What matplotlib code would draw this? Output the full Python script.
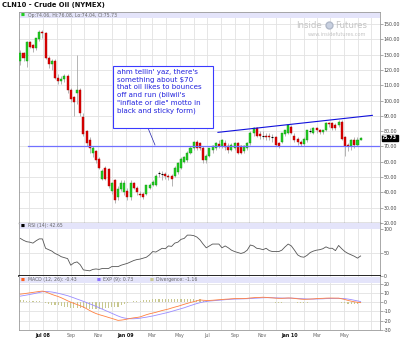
import matplotlib
matplotlib.use('Agg')
import matplotlib.pyplot as plt
import matplotlib.dates as mdates
import numpy as np
import pandas as pd
from matplotlib.patches import Rectangle
from matplotlib.lines import Line2D

W, H = 400, 351

# ---------------- data (weekly candles, CLN10) ----------------
start_week = '2008-05-12'
opens = [126, 131, 126, 138, 136, 134, 140, 144.5, 144, 128,
         124, 126, 115, 113, 114, 116, 106.6, 102, 104.6, 106.6,
         89, 80, 74, 65.4, 67, 62, 49, 55.6, 55, 41,
         48, 36.7, 42, 40, 41, 36.7, 46, 43, 39, 39,
         39, 43, 45, 45, 52.4, 52, 52, 51, 51, 51,
         53, 56, 60, 61, 66, 68.7, 72.6, 72, 69, 61,
         64, 67.5, 68.7, 71.5, 70.6, 72, 70.6, 68, 69, 72,
         70, 67, 69, 72, 78.5, 81.8, 78, 77, 77, 76.5,
         76, 76, 72, 72.6, 78, 79, 83, 77, 75, 73,
         71.5, 74, 80, 79, 81.8, 80.5, 79.5, 80.5, 85, 85,
         84, 84, 85.7, 76, 71, 70.6, 74, 71, 74.06]
highs = [133, 132, 139, 139, 137, 141, 146, 146, 145, 129,
         127, 127, 117, 116, 117, 117, 108, 103, 129.5, 108,
         92, 81, 76, 70, 68, 63, 55, 57, 56, 47,
         49, 44, 48, 48, 43, 48, 47, 44, 41, 40,
         45, 46, 48, 52, 54, 54, 53, 52, 52, 57,
         60, 63, 64, 67, 70, 73.5, 74, 73, 70, 65,
         69, 71, 73, 74, 75, 74, 72, 72, 73, 73,
         71, 71, 73, 80, 82.5, 82.5, 80, 80, 79, 79,
         78, 77, 73, 79, 81, 84.5, 84, 79, 76, 74,
         76, 81, 82, 82.5, 82.5, 81.5, 81, 86, 86, 86,
         85, 87, 87, 77, 72, 75, 76, 76, 76.08]
lows = [123, 126, 122, 134, 132, 133, 139, 141, 127, 121,
        120, 114, 111, 111, 112, 105, 99, 90, 98, 90,
        77, 70, 66, 63, 59, 55, 48, 48, 43, 39,
        33, 35, 41, 38, 35, 35, 42, 38, 37, 36,
        38, 42, 44, 44, 50, 48, 49, 48, 44, 50,
        52, 55, 59, 60, 65, 68, 68, 68, 59, 59,
        63, 66, 68, 69, 69, 68, 66, 67, 68, 65,
        65, 66, 68, 71, 77, 76, 75, 75, 74, 74,
        73, 70, 69, 72, 77, 78, 78, 73, 71, 70,
        70, 73, 79, 78, 79, 78, 78, 80, 83, 81,
        81, 83, 74, 64, 67, 68, 69, 70, 74.04]
closes = [131, 128, 138, 135, 134, 140.6, 144.5, 143.8, 128, 124,
          125.5, 115, 113, 114, 116, 106.6, 101, 99, 106.6, 92,
          78, 72, 69, 68.7, 61, 56, 54, 49, 44, 46,
          35, 42.5, 46, 46, 36.7, 46, 43, 40, 38, 37,
          44.5, 45, 46.5, 51, 52.4, 52, 51, 50, 49, 56,
          59, 62, 63, 66, 69, 72.6, 69, 69, 61, 64,
          68.7, 70, 72, 70, 74, 69.5, 67.4, 71, 72, 66,
          66, 70, 72, 79, 81.8, 77, 77, 77, 76, 76,
          76, 71, 70, 78.5, 80.5, 83.7, 78.5, 74, 72.6, 71.5,
          75, 80.5, 80, 81.8, 80.5, 79.5, 80.5, 85, 84.5, 82,
          82, 85.7, 75, 70.6, 70, 74, 71, 74, 75.73]
rsi = [80, 76, 73, 72, 70, 75, 79, 79, 59, 56,
       53, 48, 45, 41, 39, 37, 23, 28, 30, 24,
       13, 12, 11, 14, 15, 14, 16, 16, 16, 20,
       20, 20, 23, 25, 27, 30, 33, 35, 36, 38,
       40, 45, 52, 51, 55, 59, 58, 64, 63, 70,
       72, 78, 80, 87, 87, 86, 83, 77, 68, 60,
       64, 68, 68, 68, 60, 64, 60, 55, 52, 50,
       48, 50, 55, 66, 64, 59, 58, 56, 59, 54,
       52, 52, 52, 55, 62, 68, 64, 55, 45, 41,
       40, 44, 50, 53, 55, 56, 58, 62, 59, 59,
       54, 65, 58, 52, 48, 45, 42, 38, 42.65]
macd = [8.9, 9.3, 9.8, 10.3, 10.8, 11.3, 11.8, 12.2, 11.3, 10,
        8.6, 7.4, 6.3, 4.9, 3.3, 1.6, 0.1, -1.2, -2.5, -3.8,
        -5.2, -7, -9, -10.8, -12.3, -13.5, -14.5, -15.5, -16.6, -17.6,
        -18.7, -19.8, -19.5, -19, -18.3, -17.6, -17, -16.6, -16, -14.8,
        -13.6, -12.6, -11.8, -11, -10, -9, -8.2, -7.4, -6.3, -5.3,
        -4.4, -3.3, -2.2, -1.2, -0.2, 0.6, 1.6, 2.6, 2.2, 2,
        2, 2.2, 2.5, 2.8, 3, 3.3, 3.5, 3.8, 4, 4,
        4, 4, 4.3, 4.7, 5, 5.3, 5.3, 5.5, 5.3, 5,
        4.8, 4.5, 4.3, 4.3, 4.5, 4.7, 4.6, 4.2, 3.8, 3.4,
        3.2, 3.3, 3.5, 3.7, 4, 4.2, 4.3, 4.5, 4.6, 4.6,
        4.5, 4.5, 3.8, 3, 2, 1.2, 0.5, 0, -0.43]
signal = [6.7, 7.3, 7.9, 8.5, 9.2, 9.9, 10.7, 11.5, 11.7, 11.6,
          11.2, 10.6, 9.8, 9, 8.1, 7.2, 6, 4.8, 3.5, 2.3,
          1, -0.3, -1.7, -3, -4.5, -6, -7.5, -9, -10.5, -12,
          -13.5, -15, -16.3, -17.2, -17.8, -18, -18, -17.8, -17.4, -16.8,
          -16.3, -15.6, -15, -14.2, -13.4, -12.6, -11.8, -11, -10, -9,
          -8, -7, -6, -4.8, -3.6, -2.5, -1.4, -0.5, 0.3, 0.9,
          1.3, 1.6, 1.9, 2.2, 2.5, 2.8, 3.1, 3.3, 3.5, 3.6,
          3.7, 3.8, 3.9, 4.1, 4.3, 4.5, 4.7, 4.9, 5, 5,
          4.9, 4.8, 4.7, 4.6, 4.5, 4.5, 4.5, 4.4, 4.2, 4,
          3.8, 3.6, 3.5, 3.5, 3.6, 3.7, 3.8, 4, 4.1, 4.2,
          4.3, 4.3, 4.2, 3.9, 3.5, 2.9, 2.2, 1.5, 0.73]

support_level = 70
trend_start = ('2009-07-25', 79.2)
trend_end = ('2010-07-03', 90.3)
support_start = '2008-05-29'

month_ticks = ['2008-07-01', '2008-09-01', '2008-11-01', '2009-01-01', '2009-03-01',
               '2009-05-01', '2009-07-01', '2009-09-01', '2009-11-01', '2010-01-01',
               '2010-03-01', '2010-05-01']
month_labels = ['Jul 08', 'Sep', 'Nov', 'Jan 09', 'Mar', 'May', 'Jul', 'Sep', 'Nov',
                'Jan 10', 'Mar', 'May']
price_ticks = [150, 140, 130, 120, 110, 100, 90, 80, 70, 60, 50, 40, 30, 20]
rsi_ticks = [100, 50, 0]
macd_ticks = [20, 10, 0, -10, -20, -30]

title = 'CLN10 - Crude Oil (NYMEX)'
note = ("ahm tellin' yaz, there's\nsomething about $70\nthat oil likes to bounces\n"
        "off and run (biiwii's\n\"inflate or die\" motto in\nblack and sticky form)")

# ---------------- figure ----------------
fig = plt.figure(figsize=(W / 100, H / 100), dpi=100)
fig.patch.set_facecolor('white')

def fx(x):
    return x / W

def fy(y):
    return 1 - y / H

L, R = 19, 380
ax1 = fig.add_axes([fx(L), fy(223), (R - L) / W, 211 / H])
ax2 = fig.add_axes([fx(L), fy(276), (R - L) / W, 53 / H])
ax3 = fig.add_axes([fx(L), fy(330), (R - L) / W, 54 / H])

dates = pd.date_range(start_week, periods=len(closes), freq='7D')
xd = mdates.date2num(dates)
o = np.array(opens, float); h = np.array(highs, float)
lo = np.array(lows, float); c = np.array(closes, float)

xmin = mdates.date2num(pd.Timestamp('2008-05-09'))
xmax = mdates.date2num(pd.Timestamp('2010-07-20'))
month_grid = mdates.date2num(pd.date_range('2008-06-01', '2010-07-01', freq='MS'))

grid_c = '#e2e2e2'
spine_c = '#9a9a9a'
band_c = '#e4e4fa'
tick_fs = 3.45

for ax in (ax1, ax2, ax3):
    ax.set_xlim(xmin, xmax)
    ax.set_facecolor('white')
    for gx in month_grid:
        ax.axvline(gx, color=grid_c, lw=0.6, zorder=0)
    ax.yaxis.tick_right()
    ax.tick_params(axis='y', labelsize=tick_fs, length=2, width=0.5, color='#888888',
                   labelcolor='#444444', pad=0.6)
    ax.tick_params(axis='x', length=0)
    for s in ax.spines.values():
        s.set_color(spine_c)
        s.set_linewidth(0.6)

for ax in (ax1, ax2):
    ax.set_xticks([])
    ax.tick_params(axis='x', labelbottom=False)

# ---- main panel ----
ax1.set_ylim(20, 157.8)
ax1.set_yticks(price_ticks)
ax1.set_yticklabels(['%.2f' % v for v in price_ticks])
for py in price_ticks:
    ax1.axhline(py, color=grid_c, lw=0.6, zorder=0)
ax1.add_patch(Rectangle((0, 1 - 6 / 211), 1, 6 / 211, transform=ax1.transAxes,
                        facecolor=band_c, edgecolor='none', zorder=1))

ax1.vlines(xd, lo, h, color='#a8a8a8', lw=0.6, zorder=2)
bw = 4.5
up = c > o
dn = c < o
eq = c == o
ax1.bar(xd[up], (c - o)[up], bottom=o[up], width=bw, color='#22cc22',
        edgecolor='#119911', linewidth=0.3, zorder=3)
ax1.bar(xd[dn], (o - c)[dn], bottom=c[dn], width=bw, color='#dd0000',
        edgecolor='#aa0000', linewidth=0.3, zorder=3)
ax1.hlines(c[eq], xd[eq] - bw / 2, xd[eq] + bw / 2, color='black', lw=0.8, zorder=3)

# support and trend lines
ax1.plot([mdates.date2num(pd.Timestamp(support_start)), xmax], [support_level, support_level],
         color='#7070ff', lw=0.9, zorder=4)
ax1.plot([mdates.date2num(pd.Timestamp(trend_start[0])), mdates.date2num(pd.Timestamp(trend_end[0]))],
         [trend_start[1], trend_end[1]], color='#1111dd', lw=0.8, zorder=4)

ax1.spines['bottom'].set_color('#666666')
ax1.spines['bottom'].set_linewidth(1.0)

# current price label
ax1.text(1.006, closes[-1], '%.2f' % closes[-1], transform=ax1.get_yaxis_transform(),
         fontsize=tick_fs, color='white', va='center', ha='left', fontweight='bold',
         bbox=dict(boxstyle='square,pad=0.12', facecolor='black', edgecolor='black'))

# ---- RSI panel ----
ax2.set_ylim(0, 112.8)
ax2.set_yticks(rsi_ticks)
ax2.set_yticklabels([str(v) for v in rsi_ticks])
ax2.axhline(50, color=grid_c, lw=0.6, zorder=0)
ax2.add_patch(Rectangle((0, 1 - 6 / 53), 1, 6 / 53, transform=ax2.transAxes,
                        facecolor=band_c, edgecolor='none', zorder=1))
ax2.plot(xd, rsi, color='#555555', lw=0.6, zorder=3)
ax2.spines['bottom'].set_color('black')
ax2.spines['bottom'].set_linewidth(1.2)
ax2.spines['top'].set_visible(False)

# ---- MACD panel ----
ax3.set_ylim(-30.3, 28.7)
ax3.set_yticks(macd_ticks)
ax3.set_yticklabels([str(v) for v in macd_ticks])
for py in macd_ticks:
    ax3.axhline(py, color=grid_c, lw=0.6, zorder=0)
ax3.add_patch(Rectangle((0, 1 - 7 / 54), 1, 6 / 54, transform=ax3.transAxes,
                        facecolor=band_c, edgecolor='none', zorder=1))
div = np.array(macd) - np.array(signal)
ax3.bar(xd, div, width=2.5, color='#c8c890', edgecolor='none', zorder=2)
ax3.plot(xd, signal, color='#9a8cff', lw=0.6, zorder=3)
ax3.plot(xd, macd, color='#ff8040', lw=0.6, zorder=4)
ax3.spines['top'].set_visible(False)

tick_x = mdates.date2num(pd.to_datetime(month_ticks))
ax3.set_xticks(tick_x)
ax3.set_xticklabels(month_labels)
ax3.tick_params(axis='x', labelsize=tick_fs, pad=2, labelcolor='#666666')
for lab in ax3.get_xticklabels():
    if ' ' in lab.get_text():
        lab.set_fontweight('bold')
        lab.set_color('#111111')

# ---- header texts ----
fig.text(fx(2), fy(5), title, fontsize=4.9, fontweight='bold', color='#111111',
         ha='left', va='center')
hdr_fs = 3.3
sq_fs = 3.0
fig.text(fx(21), fy(15.2), '■', fontsize=sq_fs, color='#22cc22', ha='left', va='center')
fig.text(fx(27.5), fy(15), 'Op:%.2f, Hi:%.2f, Lo:%.2f, Cl:%.2f' % (opens[-1], highs[-1], lows[-1], closes[-1]),
         fontsize=hdr_fs, color='#666666', ha='left', va='center')
fig.text(fx(21), fy(226.2), '■', fontsize=sq_fs, color='black', ha='left', va='center')
fig.text(fx(27.5), fy(226), 'RSI (14): %.2f' % rsi[-1], fontsize=hdr_fs, color='#666666',
         ha='left', va='center')
fig.text(fx(21), fy(280.2), '■', fontsize=sq_fs, color='#ff6020', ha='left', va='center')
fig.text(fx(27.5), fy(280), 'MACD (12, 26): %.2f' % macd[-1], fontsize=hdr_fs, color='#666666',
         ha='left', va='center')
fig.text(fx(97), fy(280.2), '■', fontsize=sq_fs, color='#8a70ff', ha='left', va='center')
fig.text(fx(103.5), fy(280), 'EXP (9): %.2f' % signal[-1], fontsize=hdr_fs, color='#666666',
         ha='left', va='center')
fig.text(fx(150), fy(280.2), '■', fontsize=sq_fs, color='#c8c890', ha='left', va='center')
fig.text(fx(156.5), fy(280), 'Divergence: %.2f' % div[-1], fontsize=hdr_fs, color='#666666',
         ha='left', va='center')

# watermark
fig.text(fx(322), fy(25), 'Inside', fontsize=6.2, color='#c4c4c4', ha='right', va='center')
fig.text(fx(335), fy(25), 'Futures', fontsize=6.2, color='#c4c4c4', ha='left', va='center')
fig.add_artist(Line2D([fx(328.5)], [fy(25)], marker='o', markersize=5.0, color='#c8d0e0',
                      markeredgecolor='#b0b8c8', transform=fig.transFigure))
fig.text(fx(337), fy(34), 'www.insidefutures.com', fontsize=3.6, color='#c4c4c4',
         ha='center', va='center')

# annotation box and pointer
fig.add_artist(Rectangle((fx(113), fy(128)), (213 - 113) / W, (128 - 66) / H,
                         transform=fig.transFigure, facecolor='white', edgecolor='#3a3aff',
                         linewidth=0.8, zorder=10))
fig.text(fx(117), fy(69), note, fontsize=5.1, color='#2222dd', ha='left', va='top',
         linespacing=1.33, zorder=11)
fig.add_artist(Line2D([fx(148), fx(155)], [fy(128), fy(145)], color='#2222aa', lw=0.5,
                      transform=fig.transFigure, zorder=9))

fig.savefig('out.png', dpi=100, facecolor='white')
